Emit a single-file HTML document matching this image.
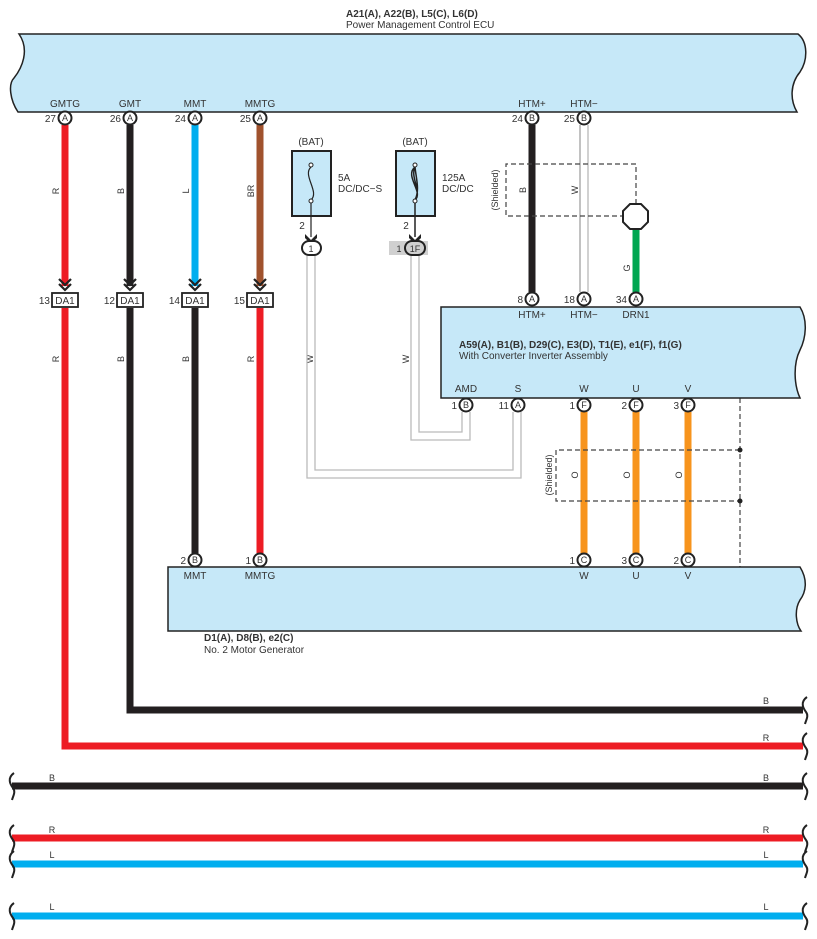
<!DOCTYPE html>
<html><head><meta charset="utf-8"><style>
html,body{margin:0;padding:0;background:#fff}
svg{display:block}
text{font-family:"Liberation Sans",sans-serif;fill:#333}
</style></head><body>
<svg width="817" height="939" viewBox="0 0 817 939" xmlns="http://www.w3.org/2000/svg">
<defs>
<g id="arr"><path d="M-6,-9 L0,-3 L6,-9 M-6,-4 L0,2 L6,-4" fill="none" stroke="#222" stroke-width="2.2"/></g>
</defs>
<!-- top ECU -->
<text x="346" y="17" font-size="10" font-weight="bold" fill="#222">A21(A), A22(B), L5(C), L6(D)</text>
<text x="346" y="28" font-size="10">Power Management Control ECU</text>
<path d="M19,34 L798,34 C808,42 808,60 800,72 C790,84 790,100 797,112 L18,112 C10,100 8,84 14,78 C22,68 30,50 19,34 Z" fill="#c6e8f8" stroke="#222" stroke-width="1.5"/>
<g font-size="10" text-anchor="middle">
<text x="65" y="107">GMTG</text><text x="130" y="107">GMT</text><text x="195" y="107">MMT</text><text x="260" y="107">MMTG</text>
<text x="532" y="107">HTM+</text><text x="584" y="107">HTM−</text>
</g>
<!-- wires top left -->
<g stroke-width="7" fill="none">
<path d="M65,125 V286" stroke="#ed1c24"/>
<path d="M130,125 V286" stroke="#231f20"/>
<path d="M195,125 V286" stroke="#00aeef"/>
<path d="M260,125 V286" stroke="#a0522d"/>
<path d="M65,308 V746 H803" stroke="#ed1c24"/>
<path d="M130,308 V710 H803" stroke="#231f20"/>
<path d="M195,308 V553" stroke="#231f20"/>
<path d="M260,308 V553" stroke="#ed1c24"/>
<path d="M532,125 V292" stroke="#231f20"/>
<path d="M636,229 V292" stroke="#00a651"/>
<path d="M584,412 V553" stroke="#f7941d"/>
<path d="M636,412 V553" stroke="#f7941d"/>
<path d="M688,412 V553" stroke="#f7941d"/>
<path d="M12,786 H803" stroke="#231f20"/>
<path d="M12,838 H803" stroke="#ed1c24"/>
<path d="M12,864 H803" stroke="#00aeef"/>
<path d="M12,916 H803" stroke="#00aeef"/>
</g>
<use href="#arr" x="65" y="288"/><use href="#arr" x="130" y="288"/><use href="#arr" x="195" y="288"/><use href="#arr" x="260" y="288"/>
<!-- DA1 -->
<g font-size="10">
<g fill="#fff" stroke="#222" stroke-width="1.8">
<rect x="52" y="293" width="26" height="14"/><rect x="117" y="293" width="26" height="14"/><rect x="182" y="293" width="26" height="14"/><rect x="247" y="293" width="26" height="14"/>
</g>
<g text-anchor="middle"><text x="65" y="304">DA1</text><text x="130" y="304">DA1</text><text x="195" y="304">DA1</text><text x="260" y="304">DA1</text></g>
<g text-anchor="end"><text x="50" y="304">13</text><text x="115" y="304">12</text><text x="180" y="304">14</text><text x="245" y="304">15</text></g>
</g>
<!-- wire labels rotated -->
<g font-size="9" text-anchor="middle">
<text transform="translate(59,191) rotate(-90)">R</text>
<text transform="translate(124,191) rotate(-90)">B</text>
<text transform="translate(189,191) rotate(-90)">L</text>
<text transform="translate(254,191) rotate(-90)">BR</text>
<text transform="translate(59,359) rotate(-90)">R</text>
<text transform="translate(124,359) rotate(-90)">B</text>
<text transform="translate(189,359) rotate(-90)">B</text>
<text transform="translate(254,359) rotate(-90)">R</text>
<text transform="translate(313,359) rotate(-90)">W</text>
<text transform="translate(409,359) rotate(-90)">W</text>
<text transform="translate(526,190) rotate(-90)">B</text>
<text transform="translate(578,190) rotate(-90)">W</text>
<text transform="translate(630,268) rotate(-90)">G</text>
<text transform="translate(498,190) rotate(-90)">(Shielded)</text>
<text transform="translate(578,475) rotate(-90)">O</text>
<text transform="translate(630,475) rotate(-90)">O</text>
<text transform="translate(682,475) rotate(-90)">O</text>
<text transform="translate(552,475) rotate(-90)">(Shielded)</text>
</g>
<!-- fuses -->
<text x="311" y="145" font-size="10" text-anchor="middle">(BAT)</text>
<text x="415" y="145" font-size="10" text-anchor="middle">(BAT)</text>
<rect x="292" y="151" width="39" height="65" fill="#c6e8f8" stroke="#222" stroke-width="2"/>
<rect x="396" y="151" width="39" height="65" fill="#c6e8f8" stroke="#222" stroke-width="2"/>
<path d="M311,167 C302,175 320,192 311,200 M311,200 V237" fill="none" stroke="#222" stroke-width="1.2"/>
<circle cx="311" cy="165" r="2" fill="#fff" stroke="#222"/><circle cx="311" cy="201" r="2" fill="#fff" stroke="#222"/>
<path d="M415,167 C404,176 424,192 415,200 M415,167 C410,178 422,190 415,200 M415,167 C416,178 420,190 415,200 M415,200 V237" fill="none" stroke="#222" stroke-width="1.5"/>
<circle cx="415" cy="165" r="2" fill="#fff" stroke="#222"/><circle cx="415" cy="201" r="2" fill="#fff" stroke="#222"/>
<text x="338" y="181" font-size="10">5A</text><text x="338" y="192" font-size="10">DC/DC−S</text>
<text x="442" y="181" font-size="10">125A</text><text x="442" y="192" font-size="10">DC/DC</text>
<text x="302" y="229" font-size="10" text-anchor="middle">2</text>
<text x="406" y="229" font-size="10" text-anchor="middle">2</text>
<path d="M305,234 L311,240 L317,234 L317,238 L311,244 L305,238Z M409,234 L415,240 L421,234 L421,238 L415,244 L409,238Z" fill="#222"/>
<rect x="389" y="241" width="39" height="14" fill="#d0d0d0"/>
<rect x="302" y="241" width="19" height="14" rx="7" fill="#fff" stroke="#222" stroke-width="2"/>
<rect x="405" y="241" width="20" height="14" rx="7" fill="#d0d0d0" stroke="#222" stroke-width="2"/>
<text x="311" y="252" font-size="9" text-anchor="middle">1</text>
<text x="415" y="252" font-size="9" text-anchor="middle">1F</text>
<text x="399" y="252" font-size="9" text-anchor="middle">1</text>
<!-- gray double lines -->
<g fill="none" stroke="#bbb" stroke-width="1.3">
<path d="M307,256 V478 H521 V412"/><path d="M315,256 V470 H513 V412"/>
<path d="M411,256 V440 H470 V412"/><path d="M419,256 V432 H462 V412"/>
<path d="M580,125 V292"/><path d="M588,125 V292" stroke="#ccc" stroke-width="1.8"/>
</g>
<path d="M580,125 V292" stroke="#999" stroke-width="1"/>
<!-- shields -->
<g fill="none" stroke="#444" stroke-width="1.2" stroke-dasharray="5,3">
<path d="M636,204 V164 H506 V216 H623"/>
<path d="M740,398 V567"/>
<path d="M740,450 H556 V501 H740"/>
</g>
<circle cx="740" cy="450" r="2.5" fill="#222"/><circle cx="740" cy="501" r="2.5" fill="#222"/>
<polygon points="630,204 641,204 648,211 648,222 641,229 630,229 623,222 623,211" fill="#fff" stroke="#222" stroke-width="2"/>
<!-- inverter -->
<path d="M441,307 L800,307 C808,320 806,338 800,350 C793,364 794,385 800,398 L441,398 Z" fill="#c6e8f8" stroke="#222" stroke-width="1.5"/>
<g font-size="10" text-anchor="middle">
<text x="532" y="318">HTM+</text><text x="584" y="318">HTM−</text><text x="636" y="318">DRN1</text>
<text x="466" y="392">AMD</text><text x="518" y="392">S</text><text x="584" y="392">W</text><text x="636" y="392">U</text><text x="688" y="392">V</text>
</g>
<text x="459" y="348" font-size="10" font-weight="bold" fill="#222">A59(A), B1(B), D29(C), E3(D), T1(E), e1(F), f1(G)</text>
<text x="459" y="359" font-size="10">With Converter Inverter Assembly</text>
<!-- motor -->
<path d="M168,567 L800,567 C808,580 806,592 800,600 C794,610 796,624 801,631 L168,631 Z" fill="#c6e8f8" stroke="#222" stroke-width="1.5"/>
<g font-size="10" text-anchor="middle">
<text x="195" y="579">MMT</text><text x="260" y="579">MMTG</text><text x="584" y="579">W</text><text x="636" y="579">U</text><text x="688" y="579">V</text>
</g>
<text x="204" y="641" font-size="10" font-weight="bold" fill="#222">D1(A), D8(B), e2(C)</text>
<text x="204" y="653" font-size="10">No.  2 Motor Generator</text>
<!-- pins -->
<g font-size="9">
<g fill="#fff" stroke="#222" stroke-width="2">
<circle cx="65" cy="118" r="6.5"/><circle cx="130" cy="118" r="6.5"/><circle cx="195" cy="118" r="6.5"/><circle cx="260" cy="118" r="6.5"/>
<circle cx="532" cy="118" r="6.5"/><circle cx="584" cy="118" r="6.5"/>
<circle cx="532" cy="299" r="6.5"/><circle cx="584" cy="299" r="6.5"/><circle cx="636" cy="299" r="6.5"/>
<circle cx="466" cy="405" r="6.5"/><circle cx="518" cy="405" r="6.5"/><circle cx="584" cy="405" r="6.5"/><circle cx="636" cy="405" r="6.5"/><circle cx="688" cy="405" r="6.5"/>
<circle cx="195" cy="560" r="6.5"/><circle cx="260" cy="560" r="6.5"/><circle cx="584" cy="560" r="6.5"/><circle cx="636" cy="560" r="6.5"/><circle cx="688" cy="560" r="6.5"/>
</g>
<g text-anchor="middle">
<text x="65" y="121">A</text><text x="130" y="121">A</text><text x="195" y="121">A</text><text x="260" y="121">A</text>
<text x="532" y="121">B</text><text x="584" y="121">B</text>
<text x="532" y="302">A</text><text x="584" y="302">A</text><text x="636" y="302">A</text>
<text x="466" y="408">B</text><text x="518" y="408">A</text><text x="584" y="408">F</text><text x="636" y="408">F</text><text x="688" y="408">F</text>
<text x="195" y="563">B</text><text x="260" y="563">B</text><text x="584" y="563">C</text><text x="636" y="563">C</text><text x="688" y="563">C</text>
</g>
<g text-anchor="end" font-size="10">
<text x="56" y="122">27</text><text x="121" y="122">26</text><text x="186" y="122">24</text><text x="251" y="122">25</text>
<text x="523" y="122">24</text><text x="575" y="122">25</text>
<text x="523" y="303">8</text><text x="575" y="303">18</text><text x="627" y="303">34</text>
<text x="457" y="409">1</text><text x="509" y="409">11</text><text x="575" y="409">1</text><text x="627" y="409">2</text><text x="679" y="409">3</text>
<text x="186" y="564">2</text><text x="251" y="564">1</text><text x="575" y="564">1</text><text x="627" y="564">3</text><text x="679" y="564">2</text>
</g>
</g>
<!-- bottom labels & wavy ends -->
<g font-size="9" text-anchor="middle">
<text x="766" y="704">B</text><text x="766" y="741">R</text>
<text x="52" y="781">B</text><text x="766" y="781">B</text>
<text x="52" y="833">R</text><text x="766" y="833">R</text>
<text x="52" y="858">L</text><text x="766" y="858">L</text>
<text x="52" y="910">L</text><text x="766" y="910">L</text>
</g>
<g fill="none" stroke="#222" stroke-width="2">
<path d="M807,697 C800,702 803,708 806,712 C809,716 806,720 805,724"/>
<path d="M807,733 C800,738 803,744 806,748 C809,752 806,756 805,760"/>
<path d="M807,773 C800,778 803,784 806,788 C809,792 806,796 805,800"/>
<path d="M807,825 C800,830 803,836 806,840 C809,844 806,848 805,852"/>
<path d="M807,851 C800,856 803,862 806,866 C809,870 806,874 805,878"/>
<path d="M807,903 C800,908 803,914 806,918 C809,922 806,926 805,930"/>
<path d="M14,773 C7,778 10,784 13,788 C16,792 13,796 12,800"/>
<path d="M14,825 C7,830 10,836 13,840 C16,844 13,848 12,852"/>
<path d="M14,851 C7,856 10,862 13,866 C16,870 13,874 12,878"/>
<path d="M14,903 C7,908 10,914 13,918 C16,922 13,926 12,930"/>
</g>
</svg>
</body></html>
